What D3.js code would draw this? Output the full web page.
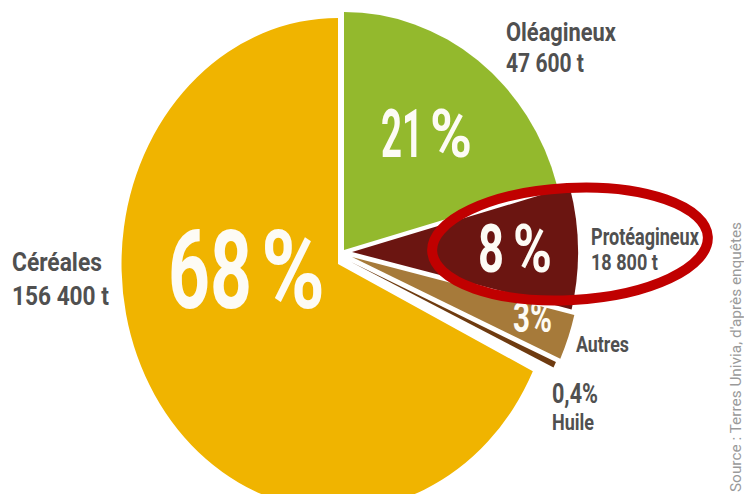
<!DOCTYPE html>
<html>
<head>
<meta charset="utf-8">
<script src="https://cdn.jsdelivr.net/npm/d3@7.9.0/dist/d3.min.js"></script>
<style>
  html, body { margin: 0; padding: 0; background: #fff; }
  svg { display: block; font-family: Roboto, "Liberation Sans", sans-serif; }
</style>
</head>
<body>
<svg id="chart" width="744" height="494"></svg>
<script>
// ---- Data (tonnes) ----
const categories = ['Oléagineux', 'Protéagineux', 'Autres', 'Huile', 'Céréales'];
const tonnes = [47600, 18800, 6900, 900, 156400];
const tonnageLabels = ['47 600 t', '18 800 t', '', '', '156 400 t'];
const percentLabels = ['21', '8', '3', '0,4', '68'];

// ---- Visual constants ----
const colors = ['#93b92d', '#6b1511', '#a67a3a', '#6e3b10', '#f0b400'];
// each slice is drawn slightly detached, and the whole pie is a bit narrow
const slicePlace = [
  { x: 344, y: 250, r: 238, sx: 0.93 },
  { x: 352, y: 252, r: 243, sx: 0.93 },
  { x: 352, y: 257, r: 246, sx: 0.93 },
  { x: 351, y: 262, r: 242, sx: 0.93 },
  { x: 338, y: 264, r: 246, sx: 0.88 }
];
const grey = '#505050';
const white = '#fdfbf5';

const svg = d3.select('#chart');

// ---- Pie ----
const pie = d3.pie().sort(null).value((d) => d);
const arcData = pie(tonnes);

svg.append('g')
  .selectAll('path')
  .data(arcData)
  .join('path')
  .attr('transform', (d, i) => `translate(${slicePlace[i].x},${slicePlace[i].y}) scale(${slicePlace[i].sx},1)`)
  .attr('d', (d, i) => d3.arc().innerRadius(0).outerRadius(slicePlace[i].r)(d))
  .attr('fill', (d, i) => colors[i]);

// condensed text: left x, baseline y, squeezed to the wanted width
function txt(x, y, str, size, width, fill = grey, weight = 700) {
  const t = svg.append('text')
    .attr('font-size', size)
    .attr('font-weight', weight)
    .attr('fill', fill)
    .text(str);
  const k = width / t.node().getComputedTextLength();
  t.attr('transform', `translate(${x},${y}) scale(${k},1)`);
  return t;
}

// ---- Big white percentages inside the slices ----
txt(168, 308, percentLabels[4], 110, 84, white);
txt(261, 308, '%', 110, 64, white);
txt(381, 157, percentLabels[0], 66, 42, white);
txt(430, 157, '%', 66, 42, white);
txt(478, 272, percentLabels[1], 66, 26, white);
txt(513, 272, '%', 66, 39, white);
txt(513, 332, percentLabels[2], 42, 17, white);
txt(530, 332, '%', 42, 22, white);

// ---- Red highlight ring round Protéagineux ----
svg.append('ellipse')
  .attr('cx', 570)
  .attr('cy', 244)
  .attr('rx', 138)
  .attr('ry', 56)
  .attr('transform', 'rotate(-3 570 244)')
  .attr('fill', 'none')
  .attr('stroke', '#c00000')
  .attr('stroke-width', 10);

// ---- Category labels ----
txt(506, 41, categories[0], 25, 110);
txt(506, 72, tonnageLabels[0], 25, 78);
txt(591, 245, categories[1], 23, 108);
txt(591, 270, tonnageLabels[1], 23, 67);
txt(12, 271, categories[4], 26, 90);
txt(12, 305, tonnageLabels[4], 26, 97);
txt(576, 352, categories[2], 22, 53);
txt(552, 403, percentLabels[3] + '%', 28, 46);
txt(552, 430, categories[3], 22, 42);

// ---- Source, rotated ----
svg.append('text')
  .attr('transform', 'translate(741,492) rotate(-90)')
  .attr('font-size', 15)
  .attr('fill', '#9a9a9a')
  .attr('textLength', 270)
  .attr('lengthAdjust', 'spacingAndGlyphs')
  .text("Source : Terres Univia, d'après enquêtes");
</script>
</body>
</html>
